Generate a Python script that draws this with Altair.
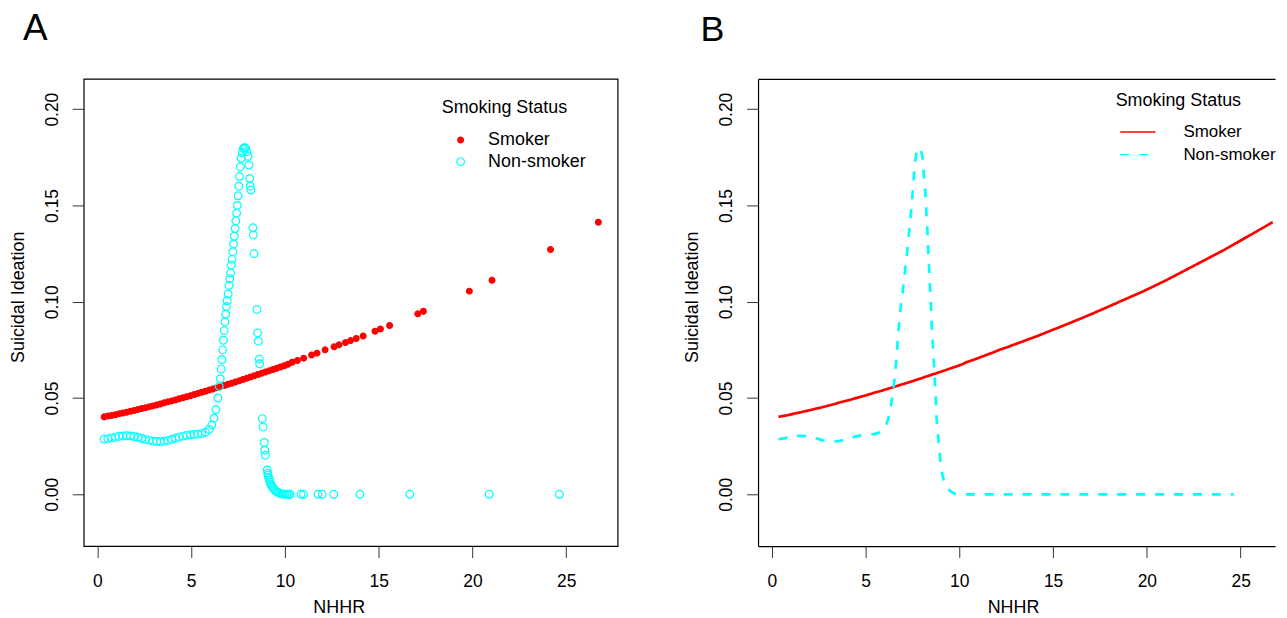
import altair as alt
import pandas as pd

# ---------------- data ----------------
status_labels = ["Smoker", "Non-smoker"]
x_ticks = [0, 5, 10, 15, 20, 25]
y_ticks = [0.0, 0.05, 0.10, 0.15, 0.20]

smoker_x = [0.36, 0.56, 0.76, 0.96, 1.16, 1.36, 1.56, 1.76, 1.96, 2.16,
            2.36, 2.56, 2.76, 2.96, 3.16, 3.36, 3.56, 3.76, 3.96, 4.16,
            4.36, 4.56, 4.76, 4.96, 5.16, 5.36, 5.56, 5.76, 5.96, 6.16,
            6.36, 6.56, 6.76, 6.96, 7.16, 7.36, 7.56, 7.76, 7.96, 8.16,
            8.36, 8.56, 8.76, 8.96, 9.16, 9.36, 9.56, 9.76, 9.96, 10.16,
            10.38, 10.66, 11.00, 11.42, 11.71, 12.14, 12.62, 12.88, 13.23, 13.50,
            13.80, 14.17, 14.80, 15.09, 15.58, 17.08, 17.38, 19.83, 21.04, 24.16,
            26.71]
smoker_y = [0.0402, 0.0406, 0.0409, 0.0413, 0.0418, 0.0422, 0.0426, 0.0431, 0.0435, 0.0440,
            0.0445, 0.0449, 0.0454, 0.0459, 0.0464, 0.0469, 0.0475, 0.0480, 0.0485, 0.0490,
            0.0496, 0.0501, 0.0507, 0.0512, 0.0518, 0.0524, 0.0530, 0.0535, 0.0541, 0.0547,
            0.0553, 0.0559, 0.0565, 0.0571, 0.0577, 0.0583, 0.0589, 0.0596, 0.0602, 0.0609,
            0.0615, 0.0622, 0.0628, 0.0635, 0.0641, 0.0648, 0.0655, 0.0661, 0.0668, 0.0675,
            0.0686, 0.0695, 0.0707, 0.0723, 0.0733, 0.0750, 0.0766, 0.0776, 0.0788, 0.0798,
            0.0809, 0.0822, 0.0847, 0.0858, 0.0877, 0.0937, 0.0950, 0.1055, 0.1112, 0.1271,
            0.1413]

nonsmoker_x = [0.36, 0.56, 0.76, 0.96, 1.16, 1.36, 1.56, 1.76, 1.96, 2.16,
               2.36, 2.56, 2.76, 2.96, 3.16, 3.36, 3.56, 3.76, 3.96, 4.16,
               4.36, 4.56, 4.76, 4.96, 5.16, 5.36, 5.56, 5.76, 5.96, 6.10,
               6.22, 6.32, 6.42, 6.50, 6.55, 6.60, 6.64, 6.68, 6.72, 6.76,
               6.80, 6.84, 6.88, 6.92, 6.97, 7.02, 7.06, 7.10, 7.14, 7.18,
               7.22, 7.26, 7.30, 7.34, 7.38, 7.42, 7.46, 7.50, 7.54, 7.58,
               7.62, 7.67, 7.72, 7.78, 7.84, 7.90, 7.97, 8.03, 8.08, 8.12,
               8.15, 8.18, 8.29, 8.31, 8.35, 8.50, 8.54, 8.58, 8.63, 8.65,
               8.79, 8.83, 8.90, 8.92, 8.96, 9.05, 9.08, 9.10, 9.14, 9.17,
               9.21, 9.24, 9.29, 9.34, 9.41, 9.49, 9.56, 9.64, 9.72, 9.81,
               9.90, 10.00, 10.10, 10.19, 10.28, 10.85, 10.99, 11.76, 11.99, 12.60,
               14.00, 16.66, 20.89, 24.63]
nonsmoker_y = [0.0286, 0.0289, 0.0293, 0.0297, 0.0301, 0.0303, 0.0304, 0.0303, 0.0300, 0.0296,
               0.0291, 0.0285, 0.0280, 0.0276, 0.0274, 0.0274, 0.0276, 0.0280, 0.0285, 0.0291,
               0.0297, 0.0302, 0.0306, 0.0309, 0.0311, 0.0312, 0.0315, 0.0322, 0.0337, 0.0360,
               0.0395, 0.0440, 0.0500, 0.0560, 0.0600, 0.0650, 0.0700, 0.0750, 0.0800, 0.0850,
               0.0895, 0.0935, 0.0975, 0.1005, 0.1040, 0.1085, 0.1120, 0.1150, 0.1190, 0.1220,
               0.1260, 0.1300, 0.1340, 0.1380, 0.1420, 0.1460, 0.1500, 0.1550, 0.1600, 0.1650,
               0.1700, 0.1745, 0.1775, 0.1795, 0.1800, 0.1798, 0.1780, 0.1755, 0.1710, 0.1640,
               0.1600, 0.1580, 0.1384, 0.1347, 0.1250, 0.0960, 0.0838, 0.0795, 0.0702, 0.0678,
               0.0393, 0.0350, 0.0269, 0.0229, 0.0203, 0.0126, 0.0110, 0.0100, 0.0085, 0.0074,
               0.0062, 0.0053, 0.0043, 0.0036, 0.0027, 0.0019, 0.0013, 0.0009, 0.0005, 0.0002,
               0.0001, 0.0, 0.0, 0.0, 0.0, 0.0, 0.0, 0.0, 0.0, 0.0,
               0.0, 0.0, 0.0, 0.0]

df = pd.concat([
    pd.DataFrame({"status": status_labels[0], "NHHR": smoker_x, "SI": smoker_y}),
    pd.DataFrame({"status": status_labels[1], "NHHR": nonsmoker_x, "SI": nonsmoker_y}),
], ignore_index=True)

# ---------------- styling ----------------
FONT = "Liberation Sans"
RED = "#FF0000"
CYAN = "#00FFFF"
PX_PER_UNIT = 18.83
PW_A, PW_B, PH = 536, 519, 469
x_min = -0.73
x_dom_A = [x_min, x_min + PW_A / PX_PER_UNIT]
x_dom_B = [x_min, x_min + PW_B / PX_PER_UNIT]
y_dom = [-0.0269, 0.2157]


def x_enc(dom, domain_line):
    return alt.X("NHHR:Q", scale=alt.Scale(domain=dom, nice=False, zero=False),
                 axis=alt.Axis(values=x_ticks, title="NHHR", grid=False,
                               domain=domain_line, domainColor="black", domainWidth=1.2,
                               tickSize=11.5, tickColor="#333333", tickWidth=1,
                               labelFontSize=17.5, titleFontSize=18, titleFontWeight="normal",
                               labelPadding=15, labelColor="black", titleColor="black",
                               titleX=256, titleY=66.5, titleBaseline="alphabetic",
                               titleAlign="center", labelFlush=False))


def y_enc(domain_line):
    return alt.Y("SI:Q", scale=alt.Scale(domain=y_dom, nice=False, zero=False),
                 axis=alt.Axis(values=y_ticks, format=".2f", title="Suicidal Ideation",
                               grid=False, domain=domain_line, domainColor="black",
                               domainWidth=1.2, tickSize=11.5, tickColor="#333333",
                               tickWidth=1, labelFontSize=17.5, titleFontSize=18,
                               titleFontWeight="normal", labelAngle=270, labelAlign="center",
                               labelBaseline="alphabetic", labelPadding=14.7,
                               labelColor="black", titleColor="black",
                               titleAngle=270, titleX=-60.5, titleY=218.7,
                               titleBaseline="alphabetic", titleAlign="center",
                               labelFlush=False))


# ---------------- panel A: points ----------------
legA = alt.Legend(orient="none", legendX=359.4, legendY=19.8, title="Smoking Status",
                  titleFontSize=18, titleFontWeight="normal", titleColor="black",
                  labelFontSize=18, labelColor="black", padding=0,
                  titlePadding=14.6, rowPadding=3.6, symbolOffset=10, labelOffset=18.6,
                  symbolStrokeWidth=1.2)

panelA = alt.Chart(df).mark_point(opacity=1, strokeWidth=1.2).encode(
    x=x_enc(x_dom_A, False),
    y=y_enc(False),
    stroke=alt.Stroke("status:N", scale=alt.Scale(domain=status_labels, range=[RED, CYAN]),
                      legend=legA),
    fill=alt.Fill("status:N", scale=alt.Scale(domain=status_labels, range=[RED, "transparent"]),
                  legend=legA),
    size=alt.Size("status:N", scale=alt.Scale(domain=status_labels, range=[34, 60]),
                  legend=legA),
).properties(
    width=PW_A, height=PH,
    title=alt.TitleParams("A", anchor="start", fontSize=37, fontWeight="normal", font=FONT,
                          dx=-61, dy=-2, offset=0, baseline="alphabetic", frame="group",
                          color="black"),
)

# ---------------- panel B: lines ----------------
legB = alt.Legend(orient="none", legendX=359, legendY=13.1, title="Smoking Status",
                  titleFontSize=18, titleFontWeight="normal", titleColor="black",
                  labelFontSize=17, labelColor="black", padding=0, clipHeight=18,
                  titlePadding=13.2, rowPadding=4.7, symbolType="stroke", symbolSize=1253,
                  symbolStrokeWidth=1.3, symbolOffset=3.8, labelOffset=27.2)

linesB = alt.Chart(df).mark_line(strokeWidth=2.7).encode(
    x=x_enc(x_dom_B, True),
    y=y_enc(True),
    stroke=alt.Stroke("status:N", scale=alt.Scale(domain=status_labels, range=[RED, CYAN]),
                      legend=legB),
    strokeDash=alt.StrokeDash("status:N",
                              scale=alt.Scale(domain=status_labels, range=[[1, 0], [9, 10]]),
                              legend=legB),
)

# top edge of the frame of panel B (its right edge lies outside the picture)
topB = alt.Chart(df).mark_point(opacity=0).encode(
    x=alt.X("NHHR:Q", scale=alt.Scale(domain=x_dom_B, nice=False, zero=False),
            axis=alt.Axis(orient="top", labels=False, ticks=False, grid=False, title=None,
                          domain=True, domainColor="black", domainWidth=1.2)),
    y=y_enc(True),
)

panelB = alt.layer(linesB, topB).resolve_axis(x="independent").properties(
    width=PW_B, height=PH,
    view=alt.ViewBackground(stroke="transparent"),
    title=alt.TitleParams("B", anchor="start", fontSize=36, fontWeight="normal", font=FONT,
                          dx=-57.7, dy=-2.5, offset=0, baseline="alphabetic", frame="group",
                          color="black"),
)

chart = alt.hconcat(panelA, panelB, spacing=64).resolve_scale(
    stroke="independent", strokeDash="independent", fill="independent", size="independent"
).resolve_legend(
    stroke="independent", strokeDash="independent", fill="independent", size="independent"
).properties(
    padding={"left": 0, "top": 0, "right": 0, "bottom": 0},
    background="white",
).configure_view(
    stroke="black", strokeWidth=1.2
).configure_axis(
    labelFont=FONT, titleFont=FONT
).configure_legend(
    labelFont=FONT, titleFont=FONT
).configure_title(
    font=FONT
)

chart.save("out.html", embed_options={"renderer": "svg", "actions": False})
